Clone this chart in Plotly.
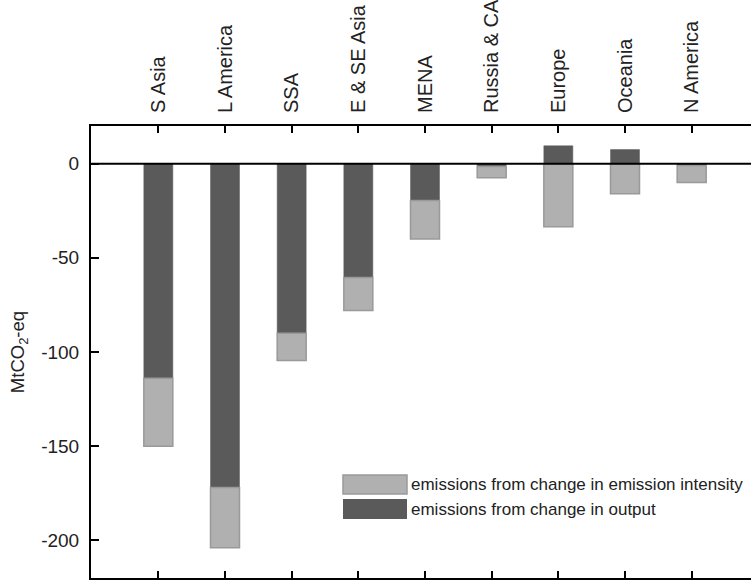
import plotly.graph_objects as go

categories = ["S Asia", "L America", "SSA", "E & SE Asia", "MENA",
              "Russia & CA", "Europe", "Oceania", "N America"]
output_change = [-114, -172, -90, -60.5, -19.5, -1.5, 9.5, 7.5, -1]
intensity_change = [-36, -32, -14.5, -17.5, -20.5, -6, -33.5, -16, -9]
legend_labels = ["emissions from change in emission intensity",
                 "emissions from change in output"]
y_ticks = [-200, -150, -100, -50, 0]

DARK = "#5a5a5a"
LIGHT = "#b0b0b0"
LIGHT_EDGE = "#999999"
FONT = "Liberation Sans, Arial, sans-serif"

FW, FH = 751, 580
L, T, B = 91, 126, 578
W = FW - L
H = B - T

fig = go.Figure()
fig.add_trace(go.Bar(
    x=categories, y=output_change, name=legend_labels[1],
    width=0.435, marker=dict(color=DARK, line=dict(color=DARK, width=0.5)),
    showlegend=False,
))
fig.add_trace(go.Bar(
    x=categories, y=intensity_change, name=legend_labels[0],
    width=0.435, marker=dict(color=LIGHT, line=dict(color=LIGHT_EDGE, width=1.5)),
    showlegend=False,
))

def px(x):
    return (x - L) / W

def py(y):
    return (B - y) / H

shapes = [
    dict(type="line", xref="paper", yref="y", x0=0, x1=1, y0=0, y1=0,
         line=dict(color="black", width=2), layer="above"),
    dict(type="rect", xref="paper", yref="paper",
         x0=px(343), x1=px(407), y0=py(494), y1=py(475),
         fillcolor=LIGHT, line=dict(color=LIGHT_EDGE, width=1.5)),
    dict(type="rect", xref="paper", yref="paper",
         x0=px(343), x1=px(407), y0=py(519), y1=py(499),
         fillcolor=DARK, line=dict(color=DARK, width=0)),
]
annotations = [
    dict(xref="paper", yref="paper", x=px(409), y=py(484.5), text=legend_labels[0],
         showarrow=False, xanchor="left", yanchor="middle",
         font=dict(size=17, color="#222222", family=FONT)),
    dict(xref="paper", yref="paper", x=px(409), y=py(509), text=legend_labels[1],
         showarrow=False, xanchor="left", yanchor="middle",
         font=dict(size=17, color="#222222", family=FONT)),
]

fig.update_layout(
    width=FW, height=FH,
    margin=dict(l=L, r=0, t=T, b=FH - B, pad=0, autoexpand=False),
    paper_bgcolor="white", plot_bgcolor="white",
    barmode="relative",
    font=dict(family=FONT, size=19, color="#222222"),
    shapes=shapes, annotations=annotations,
    showlegend=False,
)
fig.update_xaxes(
    type="category", side="top", range=[-1.01, 8.89],
    showline=True, linecolor="black", linewidth=2, mirror="ticks",
    ticks="inside", ticklen=7, tickwidth=2, tickcolor="black",
    tickangle=-90, tickfont=dict(size=20, family=FONT, color="#222222"),
    ticklabelstandoff=7, automargin=False,
    showgrid=False, zeroline=False,
)
fig.update_yaxes(
    range=[-220, 20], tickvals=y_ticks, ticktext=[str(v) for v in y_ticks],
    showline=True, linecolor="black", linewidth=2,
    ticks="inside", ticklen=8, tickwidth=2, tickcolor="black",
    tickfont=dict(size=19, family=FONT, color="#222222"),
    ticklabelstandoff=6, automargin=False,
    showgrid=False, zeroline=False,
    title=dict(text="MtCO<sub>2</sub>-eq", font=dict(size=18.5, family=FONT, color="#222222"),
               standoff=12),
)

fig.write_html(
    "out.html",
    config={"displayModeBar": False},
    post_script="document.body.style.margin='0';document.body.style.overflow='hidden';",
)
